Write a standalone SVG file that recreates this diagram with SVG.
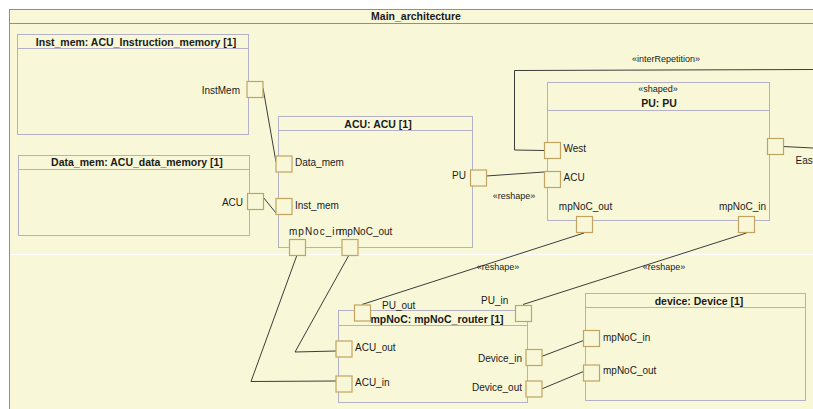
<svg xmlns="http://www.w3.org/2000/svg" width="813" height="409" viewBox="0 0 813 409">
<style>
text{font-family:"Liberation Sans",Arial,sans-serif;fill:#1a1a1a}
.t{font-size:10.5px;font-weight:bold;text-anchor:middle}
.l{font-size:10px}
.r{text-anchor:end}
.m{text-anchor:middle}
.s{font-size:9px;text-anchor:middle}
.box{fill:none;stroke:#b4b1c6;stroke-width:1}
.port{fill:#f8f8d8;stroke:#c2a462;stroke-width:1.2}
.c{fill:none;stroke:#3c3c3c;stroke-width:1}
</style>
<rect x="0" y="0" width="813" height="409" fill="#ffffff"/>
<g id="frame">
<rect x="9.5" y="9.5" width="820" height="420" fill="#f8f8d8" stroke="#a88e52" stroke-width="1"/>
<line x1="9.5" y1="23.5" x2="813" y2="23.5" stroke="#a88e52" stroke-width="1"/>
<text class="t" x="416" y="20">Main_architecture</text>
<line x1="10" y1="254.5" x2="813" y2="254.5" stroke="#ffffff" stroke-width="1"/>
</g>
<g id="connectors">
<line class="c" x1="263" y1="88" x2="276" y2="162"/>
<line class="c" x1="263" y1="197" x2="276" y2="213"/>
<line class="c" x1="486" y1="176" x2="544" y2="172"/>
<polyline class="c" points="544,150.5 514.5,150 514.5,70.5 813,69.5"/>
<line class="c" x1="783" y1="146.5" x2="813" y2="148"/>
<line class="c" x1="584" y1="233" x2="362" y2="304.5"/>
<line class="c" x1="746.5" y1="233" x2="523" y2="304.5"/>
<polyline class="c" points="297,255 251,381.5 336,381"/>
<polyline class="c" points="349,255 295,352 336,351"/>
<line class="c" x1="541.5" y1="356.5" x2="583.5" y2="340.5"/>
<line class="c" x1="541.5" y1="389" x2="583.5" y2="371.5"/>
<text class="s" x="514" y="199">«reshape»</text>
<text class="s" x="666" y="61.5">«interRepetition»</text>
<text class="s" x="498" y="270">«reshape»</text>
<text class="s" x="664" y="270">«reshape»</text>
</g>
<g id="inst_mem">
<rect class="box" x="17.5" y="34.5" width="231" height="100"/>
<line class="box" x1="17.5" y1="48.5" x2="248.5" y2="48.5"/>
<text class="t" x="136" y="45.5">Inst_mem: ACU_Instruction_memory [1]</text>
<rect class="port" x="247" y="81.5" width="16" height="16"/>
<text class="l r" x="240" y="93.5">InstMem</text>
</g>
<g id="data_mem">
<rect class="box" x="18.5" y="155.5" width="231" height="80"/>
<line class="box" x1="18.5" y1="169.5" x2="249.5" y2="169.5"/>
<text class="t" x="137" y="166">Data_mem: ACU_data_memory [1]</text>
<rect class="port" x="247.5" y="193.5" width="16" height="16"/>
<text class="l r" x="243" y="205.5">ACU</text>
</g>
<g id="acu">
<rect class="box" x="278.5" y="116.5" width="194" height="131"/>
<line class="box" x1="278.5" y1="130.5" x2="472.5" y2="130.5"/>
<text class="t" x="378" y="127.5">ACU: ACU [1]</text>
<rect class="port" x="276" y="156" width="16" height="16"/>
<text class="l" x="295" y="165.5">Data_mem</text>
<rect class="port" x="276" y="198.5" width="16" height="16"/>
<text class="l" x="295" y="208.5">Inst_mem</text>
<rect class="port" x="470.5" y="170" width="16" height="16"/>
<text class="l r" x="466" y="178.5">PU</text>
<rect class="port" x="289.5" y="239.5" width="16" height="16"/>
<text class="l" x="289" y="234.5" textLength="52" lengthAdjust="spacing">mpNoc_in</text>
<rect class="port" x="342" y="239.5" width="16" height="16"/>
<text class="l" x="339" y="234.5">mpNoC_out</text>
</g>
<g id="pu">
<rect class="box" x="547.5" y="82.5" width="222" height="138"/>
<line class="box" x1="547.5" y1="110.5" x2="769.5" y2="110.5"/>
<text class="s" x="658" y="91.5">«shaped»</text>
<text class="t" x="659" y="106.5">PU: PU</text>
<rect class="port" x="544.5" y="142.5" width="16" height="16"/>
<text class="l" x="563.5" y="152">West</text>
<rect class="port" x="544.5" y="171.5" width="16" height="16"/>
<text class="l" x="563.5" y="181">ACU</text>
<rect class="port" x="767.5" y="138.5" width="16" height="16"/>
<text class="l" x="795.5" y="163.5">East</text>
<rect class="port" x="576.5" y="216.5" width="16" height="16"/>
<text class="l m" x="585.5" y="210">mpNoC_out</text>
<rect class="port" x="738.5" y="216.5" width="16" height="16"/>
<text class="l m" x="742.5" y="210">mpNoC_in</text>
</g>
<g id="mpnoc">
<rect class="box" x="338.5" y="310.5" width="189" height="92"/>
<line class="box" x1="338.5" y1="325.5" x2="527.5" y2="325.5"/>
<text class="t" x="437" y="322.5">mpNoC: mpNoC_router [1]</text>
<rect class="port" x="354.5" y="305" width="16" height="16"/>
<text class="l" x="382" y="308.5">PU_out</text>
<rect class="port" x="515.5" y="305.5" width="16" height="16"/>
<text class="l" x="481" y="304">PU_in</text>
<rect class="port" x="336" y="341" width="16" height="16"/>
<text class="l" x="355" y="350.5">ACU_out</text>
<rect class="port" x="336" y="376" width="16" height="16"/>
<text class="l" x="355" y="386">ACU_in</text>
<rect class="port" x="526" y="349.5" width="16" height="16"/>
<text class="l r" x="522" y="361.5">Device_in</text>
<rect class="port" x="526" y="381" width="16" height="16"/>
<text class="l r" x="522" y="391">Device_out</text>
</g>
<g id="device">
<rect class="box" x="585.5" y="293.5" width="220" height="107"/>
<line class="box" x1="585.5" y1="307.5" x2="805.5" y2="307.5"/>
<text class="t" x="699" y="304.5">device: Device [1]</text>
<rect class="port" x="583.5" y="330.5" width="16" height="16"/>
<text class="l" x="603" y="340.5">mpNoC_in</text>
<rect class="port" x="583.5" y="365" width="16" height="16"/>
<text class="l" x="603" y="374">mpNoC_out</text>
</g>
</svg>
